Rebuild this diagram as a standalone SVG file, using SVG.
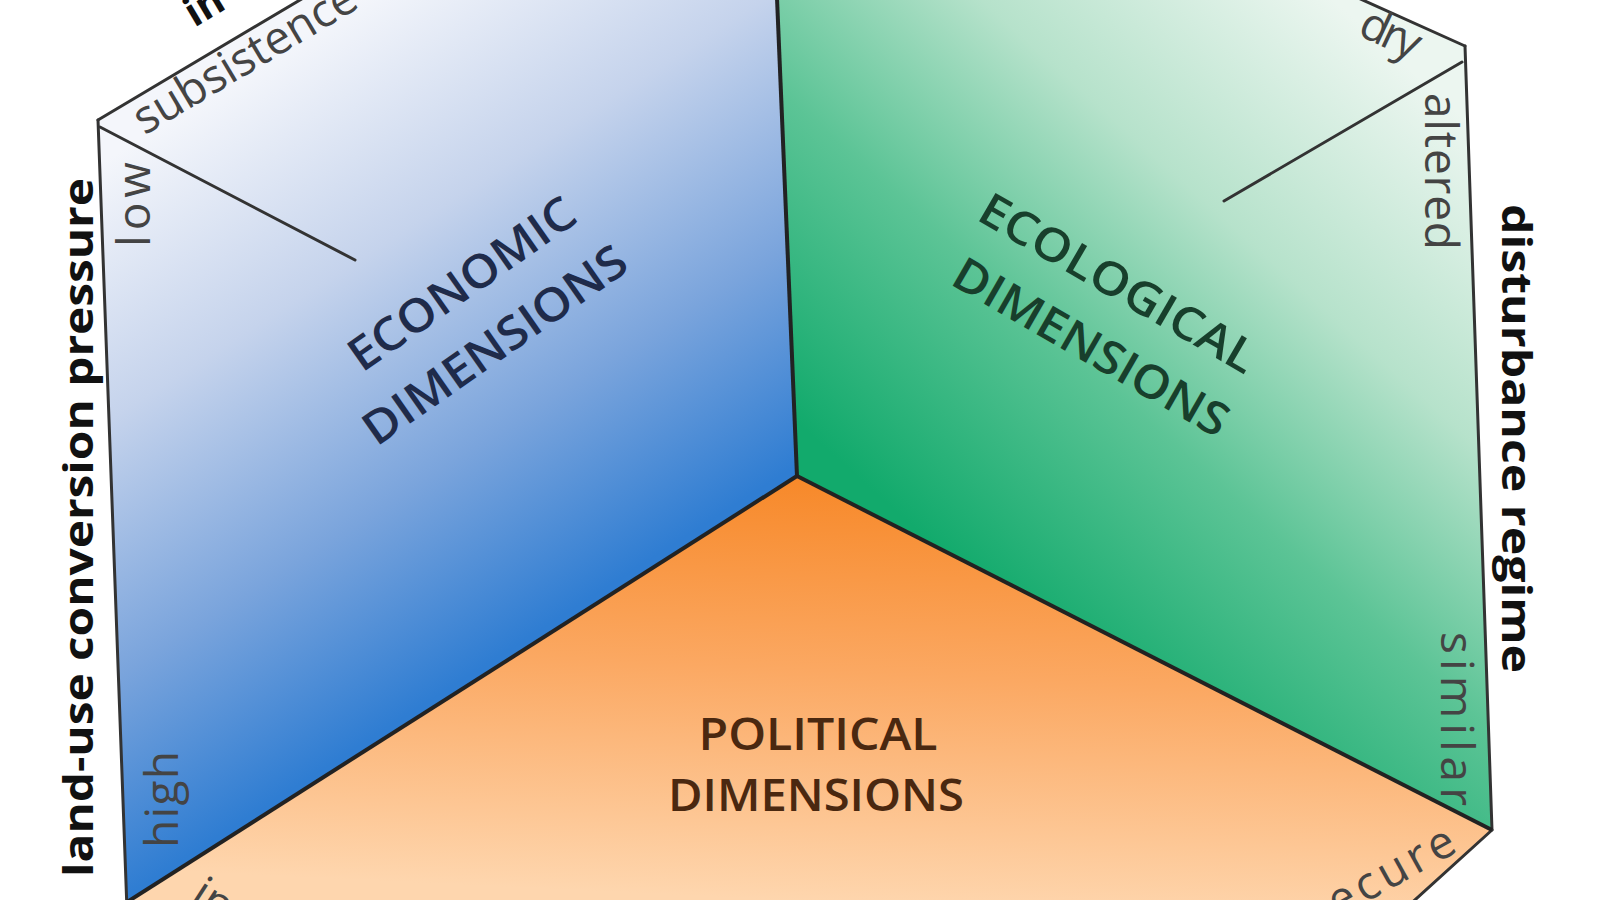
<svg xmlns="http://www.w3.org/2000/svg" width="1600" height="900" viewBox="0 0 1600 900">
  <defs>
    <linearGradient id="gBlue" gradientUnits="userSpaceOnUse" x1="200" y1="100" x2="540" y2="630">
      <stop offset="0" stop-color="#f4f6fb"/>
      <stop offset="0.35" stop-color="#c5d3ec"/>
      <stop offset="0.7" stop-color="#7aa4dc"/>
      <stop offset="1" stop-color="#2f7dd2"/>
    </linearGradient>
    <linearGradient id="gGreen" gradientUnits="userSpaceOnUse" x1="1400" y1="60" x2="950" y2="560">
      <stop offset="0" stop-color="#ecf6f0"/>
      <stop offset="0.35" stop-color="#b6e2cb"/>
      <stop offset="0.65" stop-color="#5cc496"/>
      <stop offset="1" stop-color="#12aa6c"/>
    </linearGradient>
    <linearGradient id="gOrange" gradientUnits="userSpaceOnUse" x1="800" y1="480" x2="780" y2="900">
      <stop offset="0" stop-color="#f7892a"/>
      <stop offset="0.45" stop-color="#fba862"/>
      <stop offset="1" stop-color="#fed6ae"/>
    </linearGradient>
    <style>
      .edge { stroke: #333; stroke-width: 3; fill: none; stroke-linecap: round; }
      .border { stroke: #222; stroke-width: 4; fill: none; }
      .axis { font-family: "Open Sans", "Liberation Sans", sans-serif; font-weight: 700; fill: #111; }
      .pole { font-family: "Open Sans", "Liberation Sans", sans-serif; font-weight: 400; font-size: 46px; fill: #444; }
      .dim { font-family: "Open Sans", "Liberation Sans", sans-serif; font-weight: 600; font-size: 46px; text-anchor: middle; }
    </style>
  </defs>
  <rect width="1600" height="900" fill="#ffffff"/>

  <g id="economic">
    <polygon points="98,120 300,0 777,0 797,476 127,902" fill="url(#gBlue)"/>
    <text class="dim" fill="#1f2b4a" transform="translate(471,297) rotate(-35)" textLength="266" lengthAdjust="spacingAndGlyphs">ECONOMIC</text>
    <text class="dim" fill="#1f2b4a" transform="translate(504,358) rotate(-35)" textLength="311" lengthAdjust="spacingAndGlyphs">DIMENSIONS</text>
  </g>

  <g id="ecological">
    <polygon points="777,0 1363,0 1465,46 1492,830 797,476" fill="url(#gGreen)"/>
    <text class="dim" fill="#183f2c" transform="translate(1110,297) rotate(30)" textLength="312" lengthAdjust="spacingAndGlyphs">ECOLOGICAL</text>
    <text class="dim" fill="#183f2c" transform="translate(1083,361) rotate(30)" textLength="310" lengthAdjust="spacingAndGlyphs">DIMENSIONS</text>
  </g>

  <g id="political">
    <polygon points="797,476 1492,830 1406,910 120,910 127,902" fill="url(#gOrange)"/>
    <text class="dim" fill="#4a2810" x="818" y="750" font-size="54" font-weight="700" textLength="239" lengthAdjust="spacingAndGlyphs">POLITICAL</text>
    <text class="dim" fill="#4a2810" x="816" y="811" font-size="54" font-weight="700" textLength="296" lengthAdjust="spacingAndGlyphs">DIMENSIONS</text>
  </g>

  <g id="connectors">
    <line class="edge" x1="98" y1="120" x2="127" y2="910"/>
    <line class="edge" x1="98" y1="120" x2="305" y2="-3"/>
    <line class="edge" x1="1465" y1="46" x2="1492" y2="830"/>
    <line class="edge" x1="1465" y1="46" x2="1356" y2="-3"/>
    <line class="edge" x1="1492" y1="830" x2="1406" y2="908"/>
    <line class="edge" x1="100" y1="127" x2="355" y2="260"/>
    <line class="edge" x1="1462" y1="62" x2="1224" y2="201"/>
    <line class="border" stroke="#1c4d4a" x1="777" y1="-2" x2="797" y2="476"/>
    <line class="border" x1="797" y1="476" x2="124" y2="904"/>
    <line class="border" stroke="#1d3b25" x1="797" y1="476" x2="1492" y2="830"/>
  </g>

  <g id="axis-economic">
    <g transform="translate(98,120) rotate(-30.7)">
      <text class="axis" x="130" y="-30" font-size="40">in</text>
      <text class="pole" x="32" y="37" font-size="43" fill="#555" textLength="252">subsistence</text>
    </g>
  </g>

  <g id="axis-landuse">
    <text class="axis" font-size="42" transform="translate(93,877) rotate(-90)" textLength="699" lengthAdjust="spacingAndGlyphs">land-use conversion pressure</text>
    <text class="pole" transform="translate(150,247) rotate(-90)" textLength="85">low</text>
    <text class="pole" fill="#1f4f8e" transform="translate(178,848) rotate(-90)" textLength="97">high</text>
  </g>

  <g id="axis-ecological">
    <g transform="translate(1463,47) rotate(25.2)">
      <text class="pole" x="-102" y="34" font-size="42" textLength="62">dry</text>
    </g>
  </g>

  <g id="axis-disturbance">
    <text class="axis" font-size="42" transform="translate(1502,204) rotate(90)" textLength="469" lengthAdjust="spacingAndGlyphs">disturbance regime</text>
    <text class="pole" transform="translate(1425,93) rotate(90)" textLength="157">altered</text>
    <text class="pole" fill="#1d6a46" transform="translate(1441,632) rotate(90)" textLength="174">similar</text>
  </g>

  <g id="axis-political">
    <text class="pole" fill="#7a4a22" font-size="44" text-anchor="end" transform="translate(1459,851) rotate(-29)" textLength="165">secure</text>
    <text class="pole" fill="#7a4a22" font-size="44" transform="translate(188,902) rotate(33)">in</text>
  </g>
</svg>
